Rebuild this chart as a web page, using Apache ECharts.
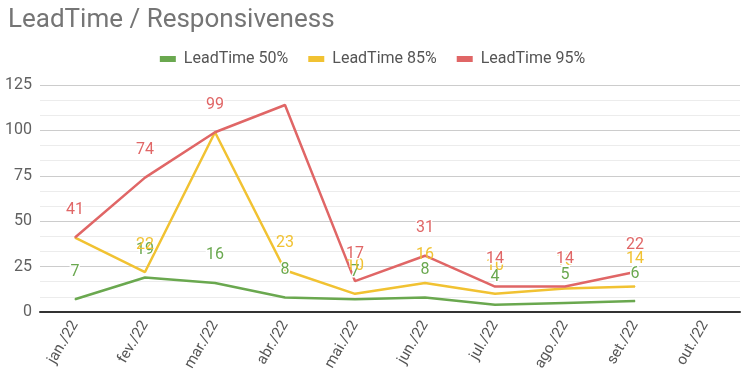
<!DOCTYPE html>
<html>
<head>
<meta charset="utf-8">
<script src="https://cdn.jsdelivr.net/npm/echarts@6/dist/echarts.min.js"></script>
<style>
  html, body { margin: 0; padding: 0; background: #fff; }
  #chart { width: 745px; height: 377px; }
</style>
</head>
<body>
<div id="chart"></div>
<script>
  // dados
  var months = ['jan./22', 'fev./22', 'mar./22', 'abr./22', 'mai./22', 'jun./22', 'jul./22', 'ago./22', 'set./22', 'out./22']
  var lt50 = [7, 19, 16, 8, 7, 8, 4, 5, 6, null]
  var lt85 = [41, 22, 99, 23, 10, 16, 10, 13, 14, null]
  var lt95 = [41, 74, 99, 114, 17, 31, 14, 14, 22, null]
  var hiddenLabels95 = [3] // abr. sem rótulo no original
  var yTicks = [0, 25, 50, 75, 100, 125]

  var chart = echarts.init(document.getElementById('chart'))

  function mkSeries(name, values, color, hidden, halo) {
    return {
      name: name,
      type: 'line',
      showSymbol: true,
      symbol: 'circle',
      symbolSize: 1,
      lineStyle: { width: 2.5, color: color },
      itemStyle: { color: color },
      data: values.map(function (v, i) {
        if (hidden && hidden.indexOf(i) >= 0) {
          return { value: v, label: { show: false } }
        }
        return v
      }),
      label: {
        show: true,
        position: 'top',
        distance: 19,
        color: color,
        fontSize: 16,
        fontFamily: 'Roboto',
        textBorderColor: '#fff',
        textBorderWidth: halo || 0
      },
      labelLayout: { hideOverlap: false }
    }
  }

  var option = {
    backgroundColor: '#fff',
    animation: false,
    title: {
      text: 'LeadTime / Responsiveness',
      left: 3,
      top: 2,
      textStyle: { color: '#757575', fontSize: 26, fontWeight: 'normal', fontFamily: 'Roboto' }
    },
    legend: {
      top: 46,
      left: 'center',
      itemWidth: 16,
      itemHeight: 6,
      itemGap: 20,
      icon: 'rect',
      textStyle: { color: '#555', fontSize: 16, fontFamily: 'Roboto', padding: [0, 0, 0, 3] },
      data: ['LeadTime 50%', 'LeadTime 85%', 'LeadTime 95%']
    },
    grid: { left: 40, right: 5, top: 85, bottom: 65 },
    xAxis: {
      type: 'category',
      data: months,
      boundaryGap: true,
      axisLine: { lineStyle: { color: '#333', width: 2 } },
      axisTick: { show: false },
      axisLabel: { rotate: 60, color: '#555', fontSize: 15, fontFamily: 'Roboto', margin: 10 },
      splitLine: { show: false }
    },
    yAxis: {
      type: 'value',
      min: yTicks[0],
      max: yTicks[yTicks.length - 1],
      interval: 25,
      axisLine: { show: false },
      axisTick: { show: false },
      axisLabel: { color: '#616161', fontSize: 16, fontFamily: 'Roboto', margin: 8 },
      splitLine: { lineStyle: { color: '#ccc', width: 1 } },
      minorTick: { show: false, splitNumber: 3 },
      minorSplitLine: { show: true, lineStyle: { color: '#ececec', width: 1 } }
    },
    series: [
      mkSeries('LeadTime 50%', lt50, '#6aa84f', null, 3),
      mkSeries('LeadTime 85%', lt85, '#f1c232'),
      mkSeries('LeadTime 95%', lt95, '#e06666', hiddenLabels95, 3)
    ]
  }

  chart.setOption(option)
</script>
</body>
</html>
